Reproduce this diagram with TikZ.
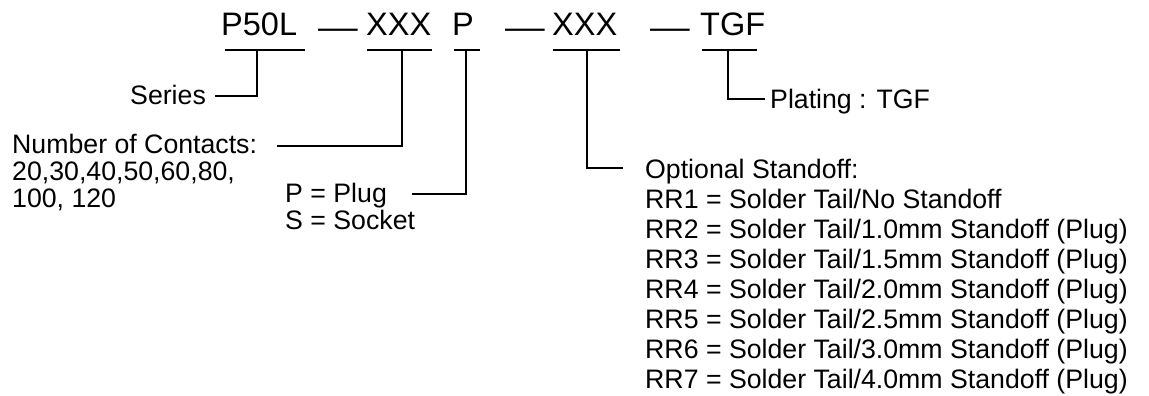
\documentclass[tikz,border=0pt]{standalone}
\usepackage{fontspec}
\setmainfont{Liberation Sans}
\begin{document}
\begin{tikzpicture}[x=1pt,y=-1pt,
  big/.style={inner sep=0pt,anchor=base west,font=\fontsize{32.5}{36}\selectfont},
  small/.style={inner sep=0pt,anchor=base west,font=\fontsize{26.7}{30}\selectfont},
  ln/.style={line width=1.3pt}]
\useasboundingbox (0,0) rectangle (1149,396);
% title
\node[big] (p50) at (221,36) {P50L};
\node[big] (d1) at (318,39) {\scalebox{1.22}[1]{—}};
\node[big] (xx1) at (366,36) {XXX};
\node[big] (pp) at (452,36) {P};
\node[big] (d2) at (505,39) {\scalebox{1.22}[1]{—}};
\node[big] (xx2) at (552,36) {XXX};
\node[big] (d3) at (650,39) {\scalebox{1.22}[1]{—}};
\node[big] (tgf) at (700,36) {TGF};
% underlines
\coordinate (u1a) at (225,50); \coordinate (u1b) at (305,50);
\coordinate (u2a) at (367,50); \coordinate (u2b) at (432,50);
\coordinate (u3a) at (454,50); \coordinate (u3b) at (480,50);
\coordinate (u4a) at (553,50); \coordinate (u4b) at (620,50);
\coordinate (u5a) at (702,50); \coordinate (u5b) at (757,50);
\draw[ln] (u1a) -- (u1b); \draw[ln] (u2a) -- (u2b); \draw[ln] (u3a) -- (u3b);
\draw[ln] (u4a) -- (u4b); \draw[ln] (u5a) -- (u5b);
% labels
\node[small] (ser) at (130,104) {Series};
\node[small] (noc) at (12,153) {Number of Contacts:};
\node[small] (noc2) at (12,180) {20,30,40,50,60,80,};
\node[small] (noc3) at (12,207) {100, 120};
\node[small] (plug) at (285,202) {P = Plug};
\node[small] (sock) at (285,229) {S = Socket};
\node[small] (plat) at (770,108) {Plating : TGF};
\node[small] (opt) at (645,178) {Optional Standoff:};
\node[small] (r1) at (645,208) {RR1 = Solder Tail/No Standoff};
\node[small] (r2) at (645,238) {RR2 = Solder Tail/1.0mm Standoff (Plug)};
\node[small] (r3) at (645,268) {RR3 = Solder Tail/1.5mm Standoff (Plug)};
\node[small] (r4) at (645,298) {RR4 = Solder Tail/2.0mm Standoff (Plug)};
\node[small] (r5) at (645,328) {RR5 = Solder Tail/2.5mm Standoff (Plug)};
\node[small] (r6) at (645,358) {RR6 = Solder Tail/3.0mm Standoff (Plug)};
\node[small] (r7) at (645,388) {RR7 = Solder Tail/4.0mm Standoff (Plug)};
% connectors
\coordinate (c1) at (257,50); \coordinate (e1) at (215,96);
\draw[ln] (c1) |- (e1);
\coordinate (c2) at (402,50); \coordinate (e2) at (277,146);
\draw[ln] (c2) |- (e2);
\coordinate (c3) at (466,50); \coordinate (e3) at (412,194);
\draw[ln] (c3) |- (e3);
\coordinate (c4) at (587,50); \coordinate (e4) at (623,168);
\draw[ln] (c4) |- (e4);
\coordinate (c5) at (728,50); \coordinate (e5) at (765,99);
\draw[ln] (c5) |- (e5);
\end{tikzpicture}
\end{document}
